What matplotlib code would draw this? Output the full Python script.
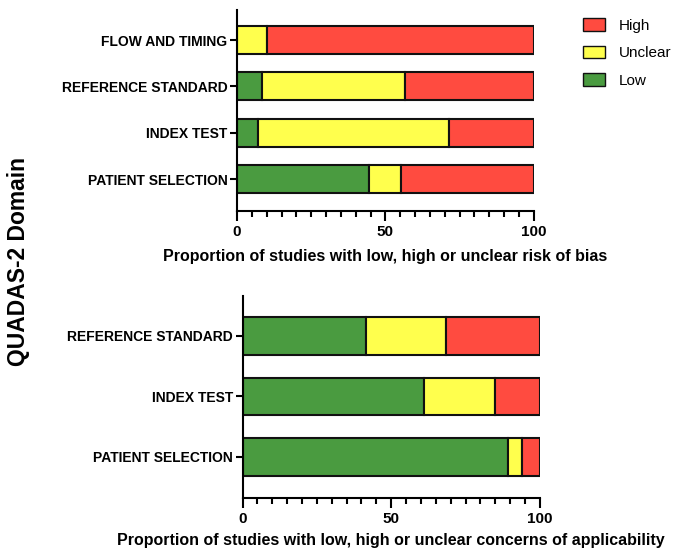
import matplotlib.pyplot as plt
from matplotlib.patches import Patch
from matplotlib.ticker import MultipleLocator

plt.rcParams['font.family'] = ['Liberation Sans', 'DejaVu Sans']

# risk of bias (top panel), listed bottom to top
bias_domains = ['PATIENT SELECTION', 'INDEX TEST', 'REFERENCE STANDARD', 'FLOW AND TIMING']
bias_low = [44.5, 7.1, 8.5, 0.0]
bias_unclear = [10.6, 64.4, 48.1, 10.1]
bias_high = [44.9, 28.5, 43.4, 89.9]

# applicability concerns (bottom panel), listed bottom to top
app_domains = ['PATIENT SELECTION', 'INDEX TEST', 'REFERENCE STANDARD']
app_low = [89.3, 61.0, 41.5]
app_unclear = [4.5, 23.9, 26.9]
app_high = [6.2, 15.1, 31.6]

c_low = '#4a9b40'
c_unclear = '#ffff4d'
c_high = '#ff4b40'


def stacked(ax, domains, low, unclear, high, height):
    y = range(len(domains))
    left2 = [a + b for a, b in zip(low, unclear)]
    kw = dict(height=height, edgecolor='#111111', linewidth=1.5)
    ax.barh(y, low, color=c_low, **kw)
    ax.barh(y, unclear, left=low, color=c_unclear, **kw)
    ax.barh(y, high, left=left2, color=c_high, **kw)
    ax.set_yticks(list(y))
    ax.set_yticklabels(domains, fontweight='bold', fontsize=10)
    ax.set_xlim(0, 100)
    ax.xaxis.set_major_locator(MultipleLocator(50))
    ax.xaxis.set_minor_locator(MultipleLocator(5))
    ax.tick_params(axis='x', which='major', length=7, width=1.5, labelsize=11, pad=3)
    ax.tick_params(axis='x', which='minor', length=4, width=1.5)
    ax.tick_params(axis='y', length=5, width=1.5, pad=2)
    for lab in ax.get_xticklabels():
        lab.set_fontweight('bold')
    for s in ['top', 'right']:
        ax.spines[s].set_visible(False)
    for s in ['left', 'bottom']:
        ax.spines[s].set_linewidth(1.5)


fig = plt.figure(figsize=(6.87, 5.51), dpi=100)

ax1 = fig.add_axes([0.345, 0.617, 0.432, 0.365])
stacked(ax1, bias_domains, bias_low, bias_unclear, bias_high, 0.6)
ax1.set_ylim(-0.69, 3.65)
ax1.set_xlabel('Proportion of studies with low, high or unclear risk of bias',
               fontweight='bold', fontsize=11.5, labelpad=7)

ax2 = fig.add_axes([0.353, 0.096, 0.433, 0.367])
stacked(ax2, app_domains, app_low, app_unclear, app_high, 0.62)
ax2.set_ylim(-0.68, 2.66)
ax2.set_xlabel('Proportion of studies with low, high or unclear concerns of applicability',
               fontweight='bold', fontsize=11.5, labelpad=5)

fig.text(0.027, 0.525, 'QUADAS-2 Domain', rotation=90, fontweight='bold',
         fontsize=16.5, ha='center', va='center')

handles = [Patch(facecolor=c_high, edgecolor='#111111', label='High'),
           Patch(facecolor=c_unclear, edgecolor='#111111', label='Unclear'),
           Patch(facecolor=c_low, edgecolor='#111111', label='Low')]
fig.legend(handles=handles, loc='upper left', bbox_to_anchor=(0.829, 0.992),
           frameon=False, fontsize=11, handlelength=1.45, handleheight=0.9,
           handletextpad=0.9, labelspacing=0.85)

fig.savefig('out.png', dpi=100)
